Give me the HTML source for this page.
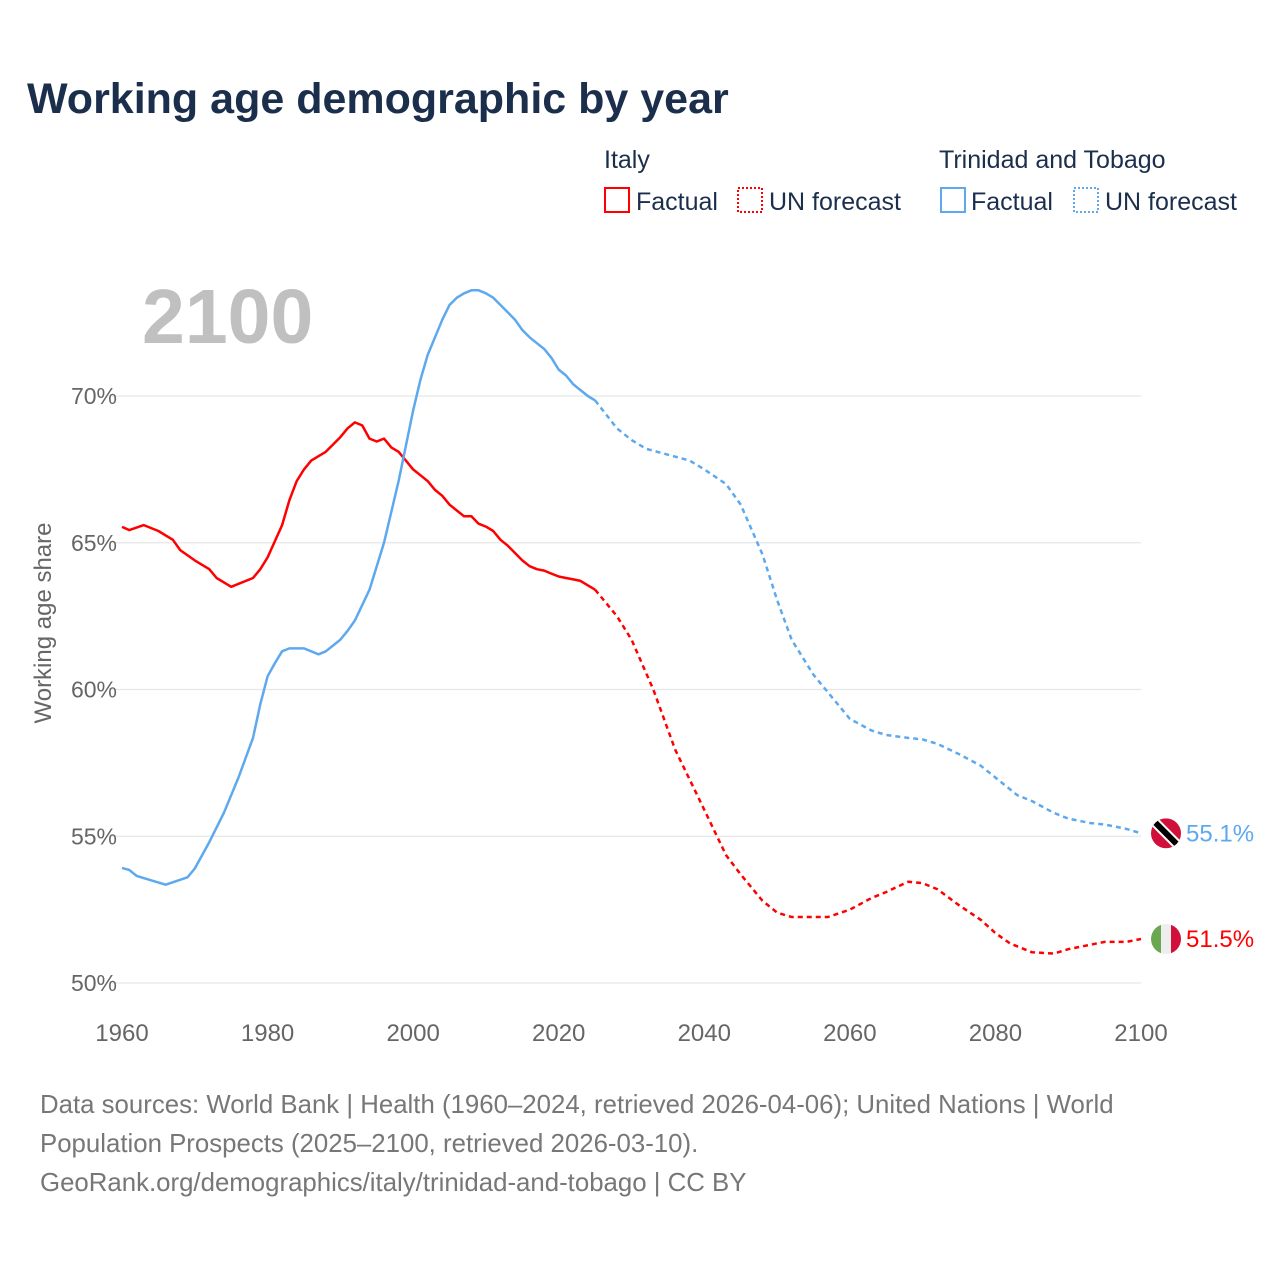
<!DOCTYPE html>
<html><head><meta charset="utf-8"><style>
body{margin:0;background:#fff;width:1280px;height:1280px;overflow:hidden;font-family:"Liberation Sans",sans-serif}
</style></head><body>
<svg id="chart" width="1280" height="1280" xmlns="http://www.w3.org/2000/svg" font-family="Liberation Sans, sans-serif">
<text x="27" y="113" font-size="43" font-weight="bold" fill="#1b2f4d">Working age demographic by year</text>
<g font-size="25" fill="#1b2f4d">
<text x="604" y="168">Italy</text>
<text x="939" y="168">Trinidad and Tobago</text>
<rect x="605" y="188" width="24" height="24" fill="none" stroke="#f00" stroke-width="2"/>
<text x="636" y="210">Factual</text>
<rect x="738" y="188" width="24" height="24" fill="none" stroke="#f00" stroke-width="2" stroke-dasharray="2,2"/>
<text x="769" y="210">UN forecast</text>
<rect x="941" y="188" width="24" height="24" fill="none" stroke="#5ea9ee" stroke-width="2"/>
<text x="971" y="210">Factual</text>
<rect x="1074" y="188" width="24" height="24" fill="none" stroke="#5ea9ee" stroke-width="2" stroke-dasharray="2,2"/>
<text x="1105" y="210">UN forecast</text>
</g>
<text x="142" y="343" font-size="77" font-weight="bold" fill="#c0c0c0">2100</text>
<text transform="translate(51,623) rotate(-90)" text-anchor="middle" font-size="24" fill="#666">Working age share</text>
<g id="grid"></g>
<g id="marks"></g>
<g font-size="25.8" fill="#777">
<text x="40" y="1113">Data sources: World Bank | Health (1960–2024, retrieved 2026-04-06); United Nations | World</text>
<text x="40" y="1152">Population Prospects (2025–2100, retrieved 2026-03-10).</text>
<text x="40" y="1191">GeoRank.org/demographics/italy/trinidad-and-tobago | CC BY</text>
</g>
</svg>
<script>
const yTicks=[50,55,60,65,70];
const xTicks=[1960,1980,2000,2020,2040,2060,2080,2100];
const itYears=[1960,1961,1963,1965,1967,1968,1970,1972,1973,1975,1978,1979,1980,1982,1983,1984,1985,1986,1988,1990,1991,1992,1993,1994,1995,1996,1997,1998,1999,2000,2001,2002,2003,2004,2005,2006,2007,2008,2009,2010,2011,2012,2013,2014,2015,2016,2017,2018,2019,2020,2021,2022,2023,2024,2025];
const itVals=[65.54,65.43,65.6,65.4,65.1,64.75,64.4,64.1,63.8,63.5,63.8,64.1,64.5,65.6,66.45,67.1,67.5,67.8,68.1,68.6,68.9,69.1,69.0,68.55,68.45,68.55,68.25,68.1,67.8,67.5,67.3,67.1,66.8,66.6,66.3,66.1,65.9,65.9,65.65,65.55,65.4,65.1,64.9,64.65,64.4,64.2,64.1,64.05,63.95,63.85,63.8,63.75,63.7,63.55,63.4];
const itFcYears=[2025,2028,2030,2033,2036,2040,2043,2045,2048,2050,2052,2055,2057,2060,2063,2065,2068,2070,2072,2075,2078,2080,2082,2085,2088,2090,2093,2095,2098,2100];
const itFcVals=[63.4,62.5,61.7,60.0,57.95,55.9,54.35,53.7,52.8,52.4,52.25,52.25,52.25,52.5,52.9,53.1,53.45,53.4,53.2,52.65,52.15,51.7,51.35,51.05,51.0,51.15,51.3,51.4,51.4,51.5];
const ttYears=[1960,1961,1962,1964,1966,1969,1970,1972,1974,1976,1978,1979,1980,1981,1982,1983,1985,1987,1988,1989,1990,1991,1992,1994,1996,1998,2000,2001,2002,2003,2004,2005,2006,2007,2008,2009,2010,2011,2012,2013,2014,2015,2016,2017,2018,2019,2020,2021,2022,2023,2024,2025];
const ttVals=[53.92,53.85,53.65,53.5,53.35,53.6,53.9,54.8,55.8,57.0,58.35,59.5,60.45,60.9,61.3,61.4,61.4,61.2,61.3,61.5,61.7,62.0,62.35,63.4,65.0,67.1,69.5,70.55,71.4,72.0,72.6,73.1,73.35,73.5,73.6,73.6,73.5,73.35,73.1,72.85,72.6,72.25,72.0,71.8,71.6,71.3,70.9,70.7,70.4,70.2,70.0,69.85];
const ttFcYears=[2025,2028,2030,2032,2035,2038,2040,2043,2045,2048,2050,2052,2055,2057,2060,2063,2065,2068,2070,2072,2075,2078,2080,2083,2085,2088,2090,2093,2095,2098,2100];
const ttFcVals=[69.85,68.9,68.5,68.2,68.0,67.8,67.5,67.0,66.3,64.6,63.05,61.7,60.5,59.9,59.0,58.6,58.45,58.35,58.3,58.15,57.8,57.4,57.0,56.4,56.2,55.8,55.6,55.45,55.4,55.25,55.1];
const NS='http://www.w3.org/2000/svg';
const xs=y=>122+(y-1960)*(1141-122)/140;
const ys=v=>983-(v-50)*(983-396)/20;
function mk(tag,attrs,parent){const e=document.createElementNS(NS,tag);for(const k in attrs)e.setAttribute(k,attrs[k]);parent.appendChild(e);return e;}
const grid=document.getElementById('grid'),marks=document.getElementById('marks');
yTicks.forEach(t=>{
 const l=mk('line',{x1:110,x2:1141,y1:ys(t),y2:ys(t),stroke:'#e6e6e6','stroke-width':1.2},grid);
 
 
 const tx=mk('text',{x:117,y:ys(t)+8,'text-anchor':'end','font-size':23,fill:'#666'},grid);
 tx.textContent=t+'%';
 
 
});
xTicks.forEach(t=>{
 const tx=mk('text',{x:xs(t),y:1041,'text-anchor':'middle','font-size':24,fill:'#666'},grid);
 tx.textContent=t;
 
 
});
function line(yrs,vals,color,dash,name){
 const d=yrs.map((y,i)=>(i?'L':'M')+xs(y).toFixed(1)+','+ys(vals[i]).toFixed(1)).join('');
 const p=mk('path',{d:d,fill:'none',stroke:color,'stroke-width':2.5,'stroke-linejoin':'round'},marks);
 if(dash)p.setAttribute('stroke-dasharray','5,4');
 
 
}
line(itYears,itVals,'#ff0000',false,'italy-factual-line');
line(itFcYears,itFcVals,'#ff0000',true,'italy-forecast-line');
line(ttYears,ttVals,'#5ea9ee',false,'tt-factual-line');
line(ttFcYears,ttFcVals,'#5ea9ee',true,'tt-forecast-line');
const itEnd=itFcVals[itFcVals.length-1],ttEnd=ttFcVals[ttFcVals.length-1];
const cx=xs(2100)+25;
const defs=mk('defs',{},marks);
const cp1=mk('clipPath',{id:'c1'},defs);mk('circle',{cx:cx,cy:ys(itEnd),r:15},cp1);
const cp2=mk('clipPath',{id:'c2'},defs);mk('circle',{cx:cx,cy:ys(ttEnd),r:15},cp2);
const gi=mk('g',{'clip-path':'url(#c1)'},marks);


mk('rect',{x:cx-15,y:ys(itEnd)-15,width:10,height:30,fill:'#6aa84f'},gi);
mk('rect',{x:cx-5,y:ys(itEnd)-15,width:10,height:30,fill:'#eee'},gi);
mk('rect',{x:cx+5,y:ys(itEnd)-15,width:10,height:30,fill:'#d0103a'},gi);
const gt=mk('g',{'clip-path':'url(#c2)'},marks);


mk('rect',{x:cx-15,y:ys(ttEnd)-15,width:30,height:30,fill:'#d0103a'},gt);
mk('line',{x1:cx-15,y1:ys(ttEnd)-15,x2:cx+15,y2:ys(ttEnd)+15,stroke:'#fff','stroke-width':10},gt);
mk('line',{x1:cx-15,y1:ys(ttEnd)-15,x2:cx+15,y2:ys(ttEnd)+15,stroke:'#000','stroke-width':6},gt);
const l1=mk('text',{x:cx+20,y:ys(itEnd)+8,'font-size':24,fill:'#ff0000'},marks);
l1.textContent=itEnd.toFixed(1)+'%';


const l2=mk('text',{x:cx+20,y:ys(ttEnd)+8,'font-size':24,fill:'#5ea9ee'},marks);
l2.textContent=ttEnd.toFixed(1)+'%';


</script>
</body></html>
